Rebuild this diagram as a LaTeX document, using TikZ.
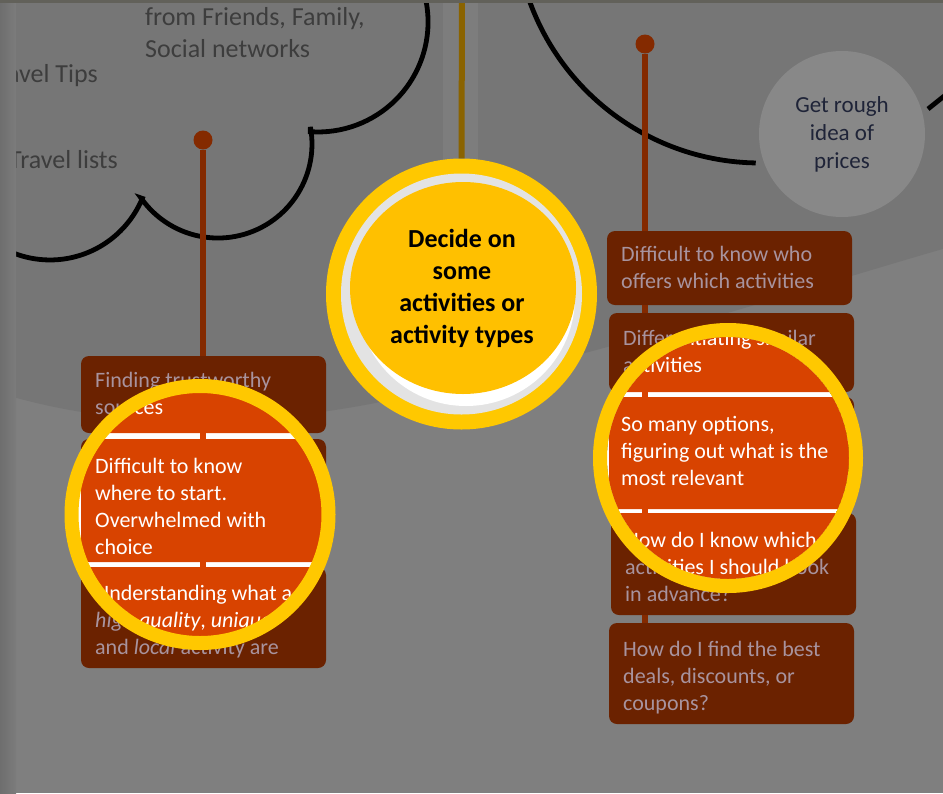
\documentclass[tikz,border=0pt]{standalone}
\usepackage{fontspec}
\setmainfont{Carlito}
\definecolor{bgup}{HTML}{767676}
\definecolor{bglow}{HTML}{7F7F7F}
\definecolor{bandc}{HTML}{7D7D7D}
\definecolor{edgedark}{HTML}{6E6E6E}
\definecolor{edgelight}{HTML}{7C7C7C}
\definecolor{topedge}{HTML}{62615A}
\definecolor{goldline}{HTML}{8A6300}
\definecolor{boxdim}{HTML}{6B2200}
\definecolor{pinc}{HTML}{842A00}
\definecolor{txtdim}{HTML}{A8939E}
\definecolor{hot}{HTML}{D84300}
\definecolor{ringc}{HTML}{FFC800}
\definecolor{hubgold}{HTML}{FFC000}
\definecolor{hubband}{HTML}{E3E3E3}
\definecolor{cloudtxt}{HTML}{3D3D3D}
\definecolor{pricefill}{HTML}{888888}
\definecolor{pricetxt}{HTML}{1F2438}
\newcommand\boxfont{\fontsize{22}{27}\selectfont}
\newcommand\cloudfont{\fontsize{26}{32}\selectfont}

% one column of pain points; #1 is a suffix for the node names
% (text nodes are placed by the baseline of their last line)
\newcommand\leftcolumn[1]{%
  \node[issuebox, minimum height=77] (l1#1) at (81,356) {};
  \node[issuebox, minimum height=123] (l2#1) at (81,439) {};
  \node[issuebox, minimum height=101] (l3#1) at (81,567) {};
  \draw[issuelink] (l1#1.south -| ldot) -- (l2#1.north -| ldot);
  \draw[issuelink] (l2#1.south -| ldot) -- (l3#1.north -| ldot);
  \node[issuetext] (lt1#1) at (95,414) {Finding trustworthy\\sources};
  \node[issuetext] (lt2#1) at (95,554) {Difficult to know\\where to start.\\Overwhelmed with\\choice};
  \node[issuetext] (lt3#1) at (95,654) {Understanding what a\\\textit{high quality}, \textit{unique}\\and \textit{local} activity are};
}
\newcommand\rightcolumn[1]{%
  \node[issuebox, minimum height=74] (r1#1) at (607,231) {};
  \node[issuebox, minimum height=79] (r2#1) at (609,313) {};
  \node[issuebox, minimum height=112] (r3#1) at (609,397) {};
  \node[issuebox, minimum height=102] (r4#1) at (611,513) {};
  \node[issuebox, minimum height=101] (r5#1) at (609,623) {};
  \draw[issuelink] (r1#1.south -| rdot) -- (r2#1.north -| rdot);
  \draw[issuelink] (r2#1.south -| rdot) -- (r3#1.north -| rdot);
  \draw[issuelink] (r3#1.south -| rdot) -- (r4#1.north -| rdot);
  \draw[issuelink] (r4#1.south -| rdot) -- (r5#1.north -| rdot);
  \node[issuetext] (rt1#1) at (621,288) {Difficult to know who\\offers which activities};
  \node[issuetext] (rt2#1) at (623,372) {Differentiating similar\\activities};
  \node[issuetext] (rt3#1) at (621,485) {So many options,\\figuring out what is the\\most relevant};
  \node[issuetext] (rt4#1) at (625,601) {How do I know which\\activities I should book\\in advance?};
  \node[issuetext] (rt5#1) at (623,710) {How do I find the best\\deals, discounts, or\\coupons?};
}

\begin{document}
\begin{tikzpicture}[x=1pt, y=-1pt,
  issuebox/.style={shape=rectangle, fill=boxdim, rounded corners=8, inner sep=0,
    outer sep=0, minimum width=245, anchor=north west},
  issuetext/.style={text=txtdim, font=\boxfont, align=left, anchor=base west, inner sep=0},
  issuelink/.style={draw=pinc, line width=6},
  cloudline/.style={draw=black, line width=4.8},
  spot/.style={draw=ringc, line width=14},
  pindot/.style={circle, fill=pinc, minimum size=19, inner sep=0}]
\useasboundingbox (0,0) rectangle (943,793);

% backdrop
\fill[bglow] (0,0) rectangle (943,793);
\fill[bgup] (-10,-10) -- (-10,390) .. controls (120,432) and (260,428) .. (400,398)
  .. controls (620,350) and (800,290) .. (953,246) -- (953,-10) -- cycle;
\fill[bandc] (443,0) rectangle (478,170);
\coordinate (hubtop) at (462,0);

% thought cloud
\draw[cloudline] (424.3,-6.5) arc[start angle=-15, end angle=94, radius=110]
  -- (310.4,126.9) arc[start angle=-10.5, end angle=145, radius=94]
  -- (142.3,198.4) arc[start angle=22.6, end angle=125, radius=100];
\draw[cloudline] (527,-6.3) arc[start angle=162, end angle=91, radius=245];
\draw[cloudline] (928,109) -- (948,93);

\node[text=cloudtxt, font=\cloudfont, align=left, anchor=base west, inner sep=0] (src)
  at (145,57) {from Friends, Family,\\Social networks};
\node[text=cloudtxt, font=\cloudfont, anchor=base east, inner sep=0] (tips) at (98,82) {Travel Tips};
\node[text=cloudtxt, font=\cloudfont, anchor=base east, inner sep=0] (lists) at (118,168) {Travel lists};

\node[circle, fill=pricefill, minimum size=166, inner sep=0] (price) at (842,134) {};
\node[text=pricetxt, font=\fontsize{23}{28}\selectfont, align=center, anchor=base, inner sep=0]
  (pricetext) at (842,168) {Get rough\\idea of\\prices};

% pins and dimmed columns
\node[pindot] (ldot) at (203,140) {};
\node[pindot] (rdot) at (645,44) {};
\draw[issuelink] (ldot) -- (ldot |- 0,356);
\draw[issuelink] (rdot) -- (rdot |- 0,231);
\leftcolumn{}
\rightcolumn{}

% highlighted pain points
\begin{scope}
  \clip (200,514.5) circle (122);
  \fill[white] (200,514.5) circle (122);
  \tikzset{issuebox/.append style={fill=hot}, issuetext/.append style={text=white},
    issuelink/.append style={draw=hot}}
  \leftcolumn{b}
\end{scope}
\draw[spot] (200,514.5) circle (128.5);
\begin{scope}
  \clip (728,458) circle (121);
  \fill[white] (728,458) circle (121);
  \tikzset{issuebox/.append style={fill=hot}, issuetext/.append style={text=white},
    issuelink/.append style={draw=hot}}
  \rightcolumn{b}
\end{scope}
\draw[spot] (728,458) circle (128);

% central step
\node[circle, fill=ringc, minimum size=271, inner sep=0] (hub) at (461.5,294) {};
\draw[draw=goldline, line width=6] (hubtop) -- (hub.north);
\fill[hubband] (461.5,294) circle (120.5);
\fill[white] (466,297) circle (109);
\fill[hubgold] (463,288) ellipse [x radius=113, y radius=106];
\node[font=\bfseries\fontsize{26}{32}\selectfont, align=center, anchor=base, inner sep=0] (step)
  at (462,343) {Decide on\\some\\activities or\\activity types};

% frame edges
\shade[left color=edgedark, right color=edgelight] (0,0) rectangle (16,793);
\fill[topedge] (0,0) rectangle (943,3);
\end{tikzpicture}
\end{document}
